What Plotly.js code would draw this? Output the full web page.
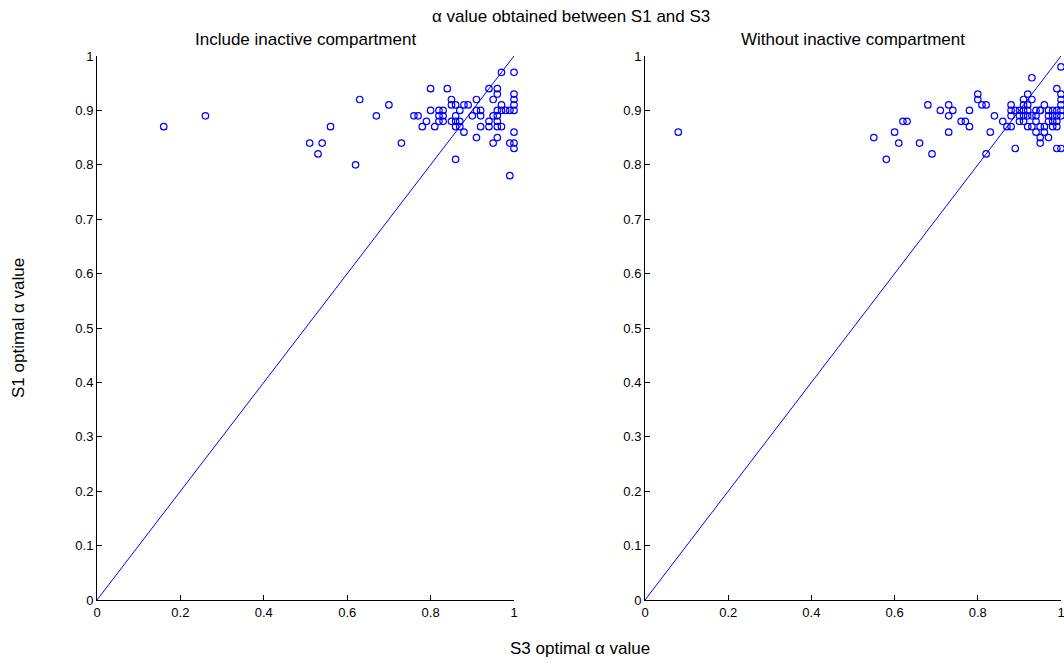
<!DOCTYPE html>
<html>
<head>
<meta charset="utf-8">
<script src="https://cdn.plot.ly/plotly-3.0.1.min.js"></script>
<style>
  html, body { margin: 0; padding: 0; background: #ffffff; }
  #chart { width: 1064px; height: 663px; }
</style>
</head>
<body>
<div id="chart"></div>
<script>
// Optimal alpha values: S3 (x) against S1 (y), with the inactive compartment included
const includeS3 = [
  0.16, 0.26, 0.51, 0.53, 0.54, 0.56, 0.62, 0.63, 0.67, 0.70, 0.73, 0.76, 0.77, 0.78, 0.79,
  0.80, 0.80, 0.81, 0.82, 0.82, 0.82, 0.83, 0.83, 0.83, 0.84, 0.85, 0.85, 0.85, 0.86, 0.86,
  0.86, 0.86, 0.86, 0.87, 0.87, 0.87, 0.88, 0.88, 0.89, 0.90, 0.91, 0.91, 0.91, 0.92, 0.92,
  0.92, 0.94, 0.94, 0.94, 0.95, 0.95, 0.95, 0.96, 0.96, 0.96, 0.96, 0.96, 0.96, 0.96, 0.97,
  0.97, 0.97, 0.97, 0.98, 0.99, 0.99, 0.99, 1.00, 1.00, 1.00, 1.00, 1.00, 1.00, 1.00, 1.00
];
const includeS1 = [
  0.87, 0.89, 0.84, 0.82, 0.84, 0.87, 0.80, 0.92, 0.89, 0.91, 0.84, 0.89, 0.89, 0.87, 0.88,
  0.94, 0.90, 0.87, 0.90, 0.89, 0.88, 0.90, 0.89, 0.88, 0.94, 0.92, 0.91, 0.88, 0.91, 0.89,
  0.88, 0.87, 0.81, 0.90, 0.88, 0.87, 0.91, 0.86, 0.91, 0.89, 0.92, 0.90, 0.85, 0.90, 0.89,
  0.87, 0.94, 0.88, 0.87, 0.92, 0.89, 0.84, 0.94, 0.93, 0.90, 0.89, 0.88, 0.87, 0.85, 0.97,
  0.91, 0.90, 0.87, 0.90, 0.90, 0.84, 0.78, 0.97, 0.93, 0.92, 0.91, 0.90, 0.86, 0.84, 0.83
];

// Same comparison without the inactive compartment
const withoutS3 = [
  0.08, 0.55, 0.58, 0.60, 0.61, 0.62, 0.63, 0.66, 0.68, 0.69, 0.71, 0.73, 0.73, 0.73, 0.74,
  0.76, 0.77, 0.78, 0.78, 0.80, 0.80, 0.81, 0.82, 0.82, 0.83, 0.84, 0.86, 0.87, 0.88, 0.88,
  0.88, 0.88, 0.89, 0.89, 0.90, 0.90, 0.90, 0.91, 0.91, 0.91, 0.91, 0.91, 0.92, 0.92, 0.92,
  0.92, 0.92, 0.93, 0.93, 0.93, 0.93, 0.94, 0.94, 0.94, 0.94, 0.95, 0.95, 0.95, 0.95, 0.95,
  0.96, 0.96, 0.96, 0.97, 0.97, 0.97, 0.97, 0.98, 0.98, 0.98, 0.98, 0.99, 0.99, 0.99, 0.99,
  0.99, 0.99, 1.00, 1.00, 1.00, 1.00, 1.00, 1.00, 1.00
];
const withoutS1 = [
  0.86, 0.85, 0.81, 0.86, 0.84, 0.88, 0.88, 0.84, 0.91, 0.82, 0.90, 0.91, 0.89, 0.86, 0.90,
  0.88, 0.88, 0.90, 0.87, 0.93, 0.92, 0.91, 0.91, 0.82, 0.86, 0.89, 0.88, 0.87, 0.91, 0.90,
  0.89, 0.87, 0.90, 0.83, 0.90, 0.89, 0.88, 0.92, 0.91, 0.90, 0.89, 0.88, 0.93, 0.91, 0.90,
  0.89, 0.87, 0.96, 0.92, 0.89, 0.87, 0.90, 0.89, 0.88, 0.86, 0.90, 0.87, 0.85, 0.84, 0.90,
  0.91, 0.87, 0.86, 0.90, 0.89, 0.88, 0.85, 0.90, 0.89, 0.88, 0.87, 0.94, 0.90, 0.89, 0.88,
  0.87, 0.83, 0.98, 0.93, 0.92, 0.91, 0.90, 0.89, 0.83
];

// y = x reference line
const lineX = [0, 1];
const lineY = [0, 1];

const titleText = 'α value obtained between S1 and S3';
const panelTitles = ['Include inactive compartment', 'Without inactive compartment'];
const xTitle = 'S3 optimal α value';
const yTitle = 'S1 optimal α value';

const blue = '#0000ff';
const font = 'Liberation Sans, Arial, Helvetica, sans-serif';

function scatter(x, y, xa, ya) {
  return {
    x: x, y: y, xaxis: xa, yaxis: ya, type: 'scatter', mode: 'markers',
    marker: { symbol: 'circle-open', size: 6.5, color: blue, line: { width: 1.2, color: blue } },
    cliponaxis: false, hoverinfo: 'skip', showlegend: false
  };
}
function diag(xa, ya) {
  return {
    x: lineX, y: lineY, xaxis: xa, yaxis: ya, type: 'scatter', mode: 'lines',
    line: { color: blue, width: 1 }, hoverinfo: 'skip', showlegend: false
  };
}

function axis(domain, dtick, anchor) {
  return {
    domain: domain, range: [0, 1], dtick: dtick, tick0: 0,
    showgrid: false, zeroline: false, showline: true, linecolor: '#000', linewidth: 1,
    ticks: 'inside', ticklen: 5, tickwidth: 1, tickcolor: '#000',
    tickfont: { family: font, size: 13, color: '#000' },
    ticklabeloverflow: 'allow',
    anchor: anchor, automargin: false, fixedrange: true
  };
}

const W = 1064, H = 663;
const yDom = [(H - 600) / H, (H - 56) / H];

const layout = {
  width: W, height: H,
  margin: { l: 0, r: 0, t: 0, b: 0 },
  paper_bgcolor: '#fff', plot_bgcolor: '#fff',
  font: { family: font, color: '#000' },
  xaxis: axis([97 / W, 514 / W], 0.2, 'y'),
  yaxis: axis(yDom, 0.1, 'x'),
  xaxis2: axis([645 / W, 1061 / W], 0.2, 'y2'),
  yaxis2: axis(yDom, 0.1, 'x2'),
  annotations: [
    { text: titleText, x: 571 / W, y: (H - 16) / H },
    { text: panelTitles[0], x: 305.5 / W, y: (H - 39) / H },
    { text: panelTitles[1], x: 853 / W, y: (H - 39) / H },
    { text: xTitle, x: 580 / W, y: (H - 648) / H },
    { text: yTitle, x: 18 / W, y: (H - 328) / H, textangle: -90 }
  ].map(a => Object.assign({
    xref: 'paper', yref: 'paper', showarrow: false,
    xanchor: 'center', yanchor: 'middle',
    font: { family: font, size: 17, color: '#000' }
  }, a))
};

const data = [
  diag('x', 'y'),
  scatter(includeS3, includeS1, 'x', 'y'),
  diag('x2', 'y2'),
  scatter(withoutS3, withoutS1, 'x2', 'y2')
];

Plotly.newPlot('chart', data, layout, { staticPlot: true, displayModeBar: false });
</script>
</body>
</html>
